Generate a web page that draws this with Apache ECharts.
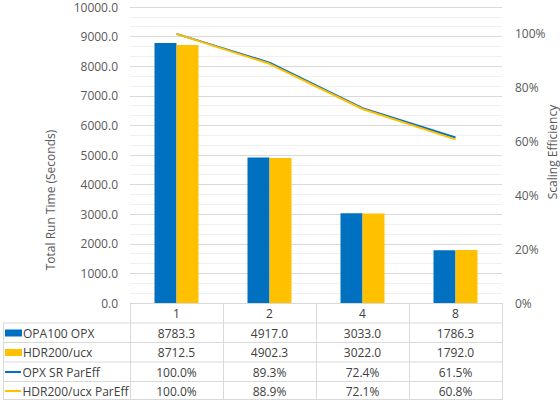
<!DOCTYPE html>
<html>
<head>
<meta charset="utf-8">
<script src="https://cdn.jsdelivr.net/npm/echarts@6/dist/echarts.min.js"></script>
<style>
  html, body { margin: 0; padding: 0; background: #fff; }
  #chart { width: 560px; height: 400px; }
</style>
</head>
<body>
<div id="chart"></div>
<script>
var categories = ['1', '2', '4', '8'];
var seriesNames = ['OPA100 OPX', 'HDR200/ucx', 'OPX SR ParEff', 'HDR200/ucx ParEff'];
var opaRunTime = [8783.3, 4917.0, 3033.0, 1786.3];
var hdrRunTime = [8712.5, 4902.3, 3022.0, 1792.0];
var opaEff = [100.0, 89.3, 72.4, 61.5];
var hdrEff = [100.0, 88.9, 72.1, 60.8];

(function() {
  var blue = '#0070C0';
  var yellow = '#FFC000';
  var muted = '#595959';
  var ink = '#404040';
  var rule = '#d9d9d9';
  var font = 'Open Sans';

  // grid edges
  var gl = 130, gr = 502, gt = 7, gb = 303;
  var rowY = [313, 333, 352.5, 372, 391]; // header + 4 table rows (centers)
  var rowLines = [323, 342.5, 362, 381.5, 399.5];

  var rows = [
    opaRunTime.map(function(v) { return v.toFixed(1); }),
    hdrRunTime.map(function(v) { return v.toFixed(1); }),
    opaEff.map(function(v) { return v.toFixed(1) + '%'; }),
    hdrEff.map(function(v) { return v.toFixed(1) + '%'; })
  ];

  var xAxes = [{
    type: 'category',
    data: categories,
    axisLine: { lineStyle: { color: rule } },
    axisTick: { show: true, inside: false, length: 400 - gb, lineStyle: { color: rule } },
    axisLabel: { color: ink, fontSize: 12, fontFamily: font, margin: rowY[0] - gb, verticalAlign: 'middle' }
  }];
  rows.forEach(function(r, i) {
    xAxes.push({
      type: 'category',
      gridIndex: 0,
      position: 'bottom',
      offset: rowY[i + 1] - gb,
      data: r,
      axisLine: { show: false },
      axisTick: { show: false },
      splitLine: { show: false },
      axisPointer: { show: false },
      axisLabel: { color: ink, fontSize: 12, fontFamily: font, margin: 0, verticalAlign: 'middle' }
    });
  });

  var icons = ['rect', 'rect', 'path://M0,0H16V2H0Z', 'path://M0,0H16V2H0Z'];
  var legends = seriesNames.map(function(name, i) {
    var h = i < 2 ? 7 : 2;
    return {
      data: [{ name: name, icon: icons[i] }],
      left: 5,
      top: rowY[i + 1] - 8,
      padding: 0,
      itemWidth: 17,
      itemHeight: h,
      selectedMode: false,
      textStyle: { color: ink, fontSize: 12, fontFamily: font, padding: [0, 0, 0, -4], lineHeight: 16 }
    };
  });

  var graphics = rowLines.map(function(y) {
    return { type: 'line', shape: { x1: 3, y1: y, x2: gr, y2: y }, style: { stroke: rule, lineWidth: 1 }, silent: true };
  });
  graphics.push({ type: 'line', shape: { x1: 3.5, y1: rowLines[0], x2: 3.5, y2: 400 }, style: { stroke: rule, lineWidth: 1 }, silent: true });
  graphics.push({
    type: 'text', x: 50, y: 200, rotation: Math.PI / 2,
    style: { text: 'Total Run Time (Seconds)', fill: muted, fontSize: 12, fontFamily: font, align: 'center', verticalAlign: 'middle' }
  });
  graphics.push({
    type: 'text', x: 552, y: 152, rotation: Math.PI / 2,
    style: { text: 'Scaling Efficiency', fill: muted, fontSize: 12, fontFamily: font, align: 'center', verticalAlign: 'middle' }
  });

  var chart = echarts.init(document.getElementById('chart'), null, { renderer: 'svg' });
  chart.setOption({
    animation: false,
    textStyle: { fontFamily: font },
    grid: { left: gl, right: 560 - gr, top: gt, bottom: 400 - gb, containLabel: false },
    legend: legends,
    xAxis: xAxes,
    yAxis: [{
      type: 'value',
      min: 0,
      max: 10000,
      interval: 1000,
      axisLine: { show: false },
      axisTick: { show: false },
      axisLabel: { color: muted, fontSize: 12, fontFamily: font, margin: 12, formatter: function(v) { return v.toFixed(1); } },
      splitLine: { lineStyle: { color: rule } },
      minorTick: { show: false, splitNumber: 3 },
      minorSplitLine: { show: true, lineStyle: { color: '#f0f0f0' } }
    }, {
      type: 'value',
      min: 0,
      max: 110,
      interval: 20,
      axisLine: { show: false },
      axisTick: { show: false },
      axisLabel: { color: muted, fontSize: 12, fontFamily: font, margin: 13, showMaxLabel: false, formatter: '{value}%' },
      splitLine: { show: false }
    }],
    graphic: graphics,
    series: [
      { name: seriesNames[0], type: 'bar', data: opaRunTime, barWidth: 22, barGap: 0, itemStyle: { color: blue } },
      { name: seriesNames[1], type: 'bar', data: hdrRunTime, barWidth: 22, barGap: 0, itemStyle: { color: yellow } },
      { name: seriesNames[2], type: 'line', yAxisIndex: 1, data: opaEff, showSymbol: false, itemStyle: { color: blue }, lineStyle: { color: blue, width: 2 } },
      { name: seriesNames[3], type: 'line', yAxisIndex: 1, data: hdrEff, showSymbol: false, itemStyle: { color: yellow }, lineStyle: { color: yellow, width: 2 } }
    ]
  });
  window.addEventListener('resize', function() { chart.resize(); });
})();
</script>
</body>
</html>
